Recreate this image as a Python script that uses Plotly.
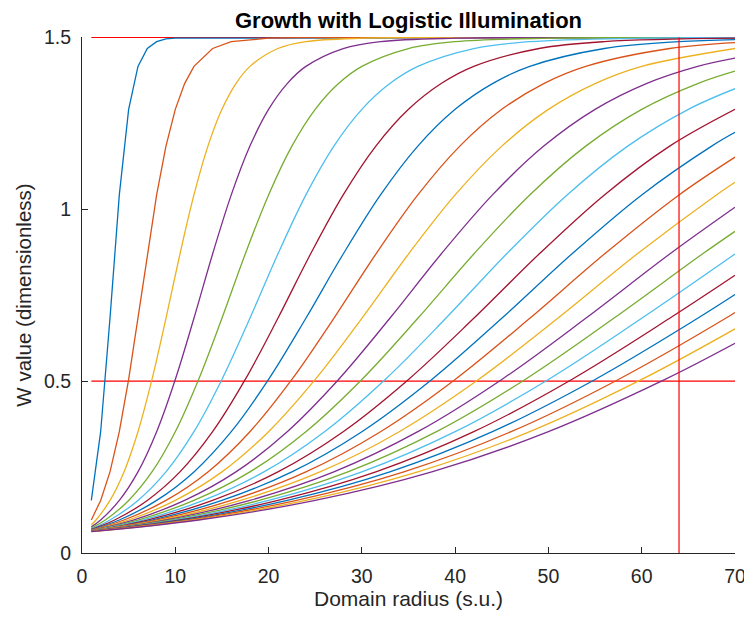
import plotly.graph_objects as go

# ---- data (25 growth curves, W vs domain radius) ----
x_c01 = [1, 2, 3, 4, 5, 6, 7, 8, 9, 10, 70]
w_c01 = [0.153, 0.353, 0.683, 1.042, 1.291, 1.416, 1.468, 1.488, 1.496, 1.498, 1.500]
x_c02 = [1, 2, 3, 4, 5, 6, 7, 8, 9, 10, 11, 12, 14, 16, 20, 24, 70]
w_c02 = [0.096, 0.153, 0.236, 0.353, 0.505, 0.683, 0.870, 1.042, 1.184, 1.291, 1.366, 1.416, 1.468, 1.488, 1.498, 1.500, 1.500]
x_c03 = [1, 1.5, 3, 4.5, 6, 7.5, 9, 10.5, 12, 13.5, 15, 16.5, 18, 21, 24, 30, 36, 70]
w_c03 = [0.082, 0.096, 0.153, 0.236, 0.353, 0.505, 0.683, 0.870, 1.042, 1.184, 1.291, 1.366, 1.416, 1.468, 1.488, 1.498, 1.500, 1.500]
x_c04 = [1, 2, 4, 6, 8, 10, 12, 14, 16, 18, 20, 22, 24, 28, 32, 40, 48, 70]
w_c04 = [0.076, 0.096, 0.153, 0.236, 0.353, 0.505, 0.683, 0.870, 1.042, 1.184, 1.291, 1.366, 1.416, 1.468, 1.488, 1.498, 1.500, 1.500]
x_c05 = [1, 2.5, 5, 7.5, 10, 12.5, 15, 17.5, 20, 22.5, 25, 27.5, 30, 35, 40, 50, 60, 70]
w_c05 = [0.073, 0.096, 0.153, 0.236, 0.353, 0.505, 0.683, 0.870, 1.042, 1.184, 1.291, 1.366, 1.416, 1.468, 1.488, 1.498, 1.500, 1.500]
x_c06 = [1, 3, 6, 9, 12, 15, 18, 21, 24, 27, 30, 33, 36, 42, 48, 60, 70]
w_c06 = [0.070, 0.096, 0.153, 0.236, 0.353, 0.505, 0.683, 0.870, 1.042, 1.184, 1.291, 1.366, 1.416, 1.468, 1.488, 1.498, 1.500]
x_c07 = [1, 3.5, 7, 10.5, 14, 17.5, 21, 24.5, 28, 31.5, 35, 38.5, 42, 49, 56, 70]
w_c07 = [0.069, 0.096, 0.153, 0.236, 0.353, 0.505, 0.683, 0.870, 1.042, 1.184, 1.291, 1.366, 1.416, 1.468, 1.488, 1.498]
x_c08 = [1, 4, 8, 12, 16, 20, 24, 28, 32, 36, 40, 44, 48, 56, 64, 70]
w_c08 = [0.068, 0.096, 0.153, 0.236, 0.353, 0.505, 0.683, 0.870, 1.042, 1.184, 1.291, 1.366, 1.416, 1.468, 1.488, 1.494]
x_c09 = [1, 4.5, 9, 13.5, 18, 22.5, 27, 31.5, 36, 40.5, 45, 49.5, 54, 63, 70]
w_c09 = [0.067, 0.096, 0.153, 0.236, 0.353, 0.505, 0.683, 0.870, 1.042, 1.184, 1.291, 1.366, 1.416, 1.468, 1.485]
x_c10 = [1, 5, 10, 15, 20, 25, 30, 35, 40, 45, 50, 55, 60, 70]
w_c10 = [0.066, 0.096, 0.153, 0.236, 0.353, 0.505, 0.683, 0.870, 1.042, 1.184, 1.291, 1.366, 1.416, 1.468]
x_c11 = [1, 5.5, 11, 16.5, 22, 27.5, 33, 38.5, 44, 49.5, 55, 60.5, 66, 70]
w_c11 = [0.066, 0.096, 0.153, 0.236, 0.353, 0.505, 0.683, 0.870, 1.042, 1.184, 1.291, 1.366, 1.416, 1.440]
x_c12 = [1, 6, 12, 18, 24, 30, 36, 42, 48, 54, 60, 66, 70]
w_c12 = [0.065, 0.096, 0.153, 0.236, 0.353, 0.505, 0.683, 0.870, 1.042, 1.184, 1.291, 1.366, 1.402]
x_c13 = [1, 6.5, 13, 19.5, 26, 32.5, 39, 45.5, 52, 58.5, 65, 70]
w_c13 = [0.065, 0.096, 0.153, 0.236, 0.353, 0.505, 0.683, 0.870, 1.042, 1.184, 1.291, 1.351]
x_c14 = [1, 7, 14, 21, 28, 35, 42, 49, 56, 63, 70]
w_c14 = [0.064, 0.096, 0.153, 0.236, 0.353, 0.505, 0.683, 0.870, 1.042, 1.184, 1.291]
x_c15 = [1, 7.5, 15, 22.5, 30, 37.5, 45, 52.5, 60, 67.5, 70]
w_c15 = [0.064, 0.096, 0.153, 0.236, 0.353, 0.505, 0.683, 0.870, 1.042, 1.184, 1.224]
x_c16 = [1, 8, 16, 24, 32, 40, 48, 56, 64, 70]
w_c16 = [0.064, 0.096, 0.153, 0.236, 0.353, 0.505, 0.683, 0.870, 1.042, 1.152]
x_c17 = [1, 8.5, 17, 25.5, 34, 42.5, 51, 59.5, 68, 70]
w_c17 = [0.064, 0.096, 0.153, 0.236, 0.353, 0.505, 0.683, 0.870, 1.042, 1.079]
x_c18 = [1, 9, 18, 27, 36, 45, 54, 63, 70]
w_c18 = [0.063, 0.096, 0.153, 0.236, 0.353, 0.505, 0.683, 0.870, 1.006]
x_c19 = [1, 9.5, 19, 28.5, 38, 47.5, 57, 66.5, 70]
w_c19 = [0.063, 0.096, 0.153, 0.236, 0.353, 0.505, 0.683, 0.870, 0.936]
x_c20 = [1, 10, 20, 30, 40, 50, 60, 70]
w_c20 = [0.063, 0.096, 0.153, 0.236, 0.353, 0.505, 0.683, 0.870]
x_c21 = [1, 10.5, 21, 31.5, 42, 52.5, 63, 70]
w_c21 = [0.063, 0.096, 0.153, 0.236, 0.353, 0.505, 0.683, 0.808]
x_c22 = [1, 11, 22, 33, 44, 55, 66, 70]
w_c22 = [0.063, 0.096, 0.153, 0.236, 0.353, 0.505, 0.683, 0.752]
x_c23 = [1, 11.5, 23, 34.5, 46, 57.5, 69, 70]
w_c23 = [0.063, 0.096, 0.153, 0.236, 0.353, 0.505, 0.683, 0.700]
x_c24 = [1, 12, 24, 36, 48, 60, 70]
w_c24 = [0.062, 0.096, 0.153, 0.236, 0.353, 0.505, 0.652]
x_c25 = [1, 12.5, 25, 37.5, 50, 62.5, 70]
w_c25 = [0.062, 0.096, 0.153, 0.236, 0.353, 0.505, 0.610]

# reference lines
ref_levels = [0.5, 1.5]          # horizontal red lines
ref_level_x = [1, 70]            # their x extent
ref_radius = 64                  # vertical red line
ref_radius_w = [0, 1.5]

x_ticks = [0, 10, 20, 30, 40, 50, 60, 70]
y_ticks = [0, 0.5, 1, 1.5]
y_tick_text = ["0", "0.5", "1", "1.5"]

matlab_colors = ["#0072BD", "#D95319", "#EDB120", "#7E2F8E", "#77AC30", "#4DBEEE", "#A2142F"]

curves = [
    (x_c01, w_c01), (x_c02, w_c02), (x_c03, w_c03), (x_c04, w_c04), (x_c05, w_c05),
    (x_c06, w_c06), (x_c07, w_c07), (x_c08, w_c08), (x_c09, w_c09), (x_c10, w_c10),
    (x_c11, w_c11), (x_c12, w_c12), (x_c13, w_c13), (x_c14, w_c14), (x_c15, w_c15),
    (x_c16, w_c16), (x_c17, w_c17), (x_c18, w_c18), (x_c19, w_c19), (x_c20, w_c20),
    (x_c21, w_c21), (x_c22, w_c22), (x_c23, w_c23), (x_c24, w_c24), (x_c25, w_c25),
]

FONT = "Liberation Sans, Arial, Helvetica, sans-serif"
TXT = "#262626"

fig = go.Figure()

for lv in ref_levels:
    fig.add_trace(go.Scatter(x=ref_level_x, y=[lv, lv], mode="lines",
                             line=dict(color="#FF0000", width=1.2),
                             showlegend=False, hoverinfo="skip"))

for i, (xs, ws) in enumerate(curves):
    shape = "linear" if i < 2 else "spline"
    fig.add_trace(go.Scatter(x=xs, y=ws, mode="lines",
                             line=dict(color=matlab_colors[i % 7], width=1.3, shape=shape),
                             showlegend=False))

fig.add_trace(go.Scatter(x=[ref_radius, ref_radius], y=ref_radius_w, mode="lines",
                         line=dict(color="#FF0000", width=1.2),
                         showlegend=False, hoverinfo="skip"))

# page body has an 8px margin: compensate so the plot area lands on x 82..735, y 37..553
fig.update_layout(
    width=752, height=617,
    margin=dict(l=74, r=25, t=29, b=72, autoexpand=False),
    paper_bgcolor="white", plot_bgcolor="white",
    font=dict(family=FONT, color=TXT, size=19),
    title=dict(text="<b>Growth with Logistic Illumination</b>",
               x=(74 + 727) / 2 / 752, xanchor="center",
               y=1 - 12.5 / 617, yanchor="middle", yref="container",
               font=dict(family=FONT, size=22, color="#000000")),
    showlegend=False,
)

fig.update_xaxes(range=[0, 70], tickvals=x_ticks, ticks="inside", ticklen=6,
                 tickcolor=TXT, showline=True, linecolor=TXT, linewidth=1,
                 showgrid=False, zeroline=False, mirror=False, automargin=False,
                 tickfont=dict(size=19.5, color=TXT), ticklabelstandoff=6,
                 title=dict(text="Domain radius (s.u.)", font=dict(size=21, color=TXT), standoff=4))
fig.update_yaxes(range=[0, 1.5015], tickvals=y_ticks, ticktext=y_tick_text, ticks="inside", ticklen=6,
                 tickcolor=TXT, showline=True, linecolor=TXT, linewidth=1,
                 showgrid=False, zeroline=False, mirror=False, automargin=False,
                 tickfont=dict(size=19.5, color=TXT), ticklabelstandoff=6,
                 title=dict(text="W value (dimensionless)", font=dict(size=20.5, color=TXT), standoff=6))

fig.write_html("out.html")
